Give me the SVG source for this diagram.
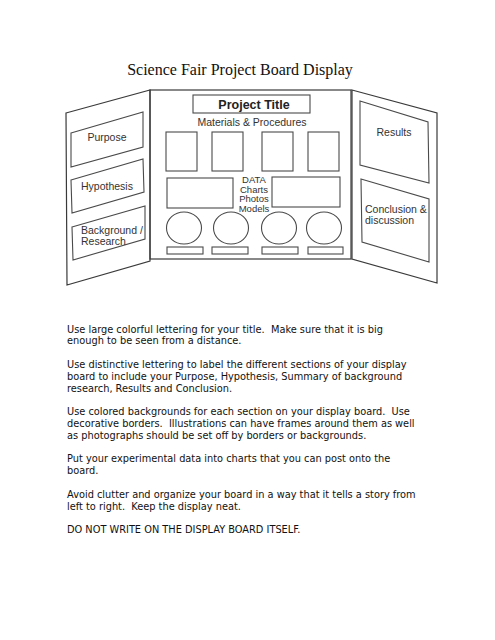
<svg xmlns="http://www.w3.org/2000/svg" width="495" height="640" viewBox="0 0 495 640">
<style>
.ln{fill:none;stroke:#3a3a3a;stroke-width:1.2;stroke-linejoin:miter}
.bx{fill:none;stroke:#4a4a4a;stroke-width:1.1}
.lb{font-family:"Liberation Sans",Arial,sans-serif;font-size:10.5px;fill:#333}
.dt{font-family:"Liberation Sans",Arial,sans-serif;font-size:9.5px;fill:#333}
.bd{font-family:"DejaVu Sans",Verdana,sans-serif;font-size:9.8px;fill:#111;white-space:pre}
</style>
<rect width="495" height="640" fill="#fff"/>
<text x="240" y="75" text-anchor="middle" font-family="Liberation Serif,Times New Roman,serif" font-size="16" fill="#111">Science Fair Project Board Display</text>

<g id="left-panel">
<polygon class="ln" points="66,113 150,90 150,261 67,285"/>
<g id="purpose"><polygon class="bx" points="71,133 143,112 143,147 71,167"/><text class="lb" x="107" y="141" text-anchor="middle">Purpose</text></g>
<g id="hypothesis"><polygon class="bx" points="71,180 143,159 144,192 72,213"/><text class="lb" x="107" y="190" text-anchor="middle">Hypothesis</text></g>
<g id="background"><polygon class="bx" points="72,227 145,206 145,239 73,260"/><text class="lb" x="81" y="234">Background /</text><text class="lb" x="81" y="245">Research</text></g>
</g>

<g id="center-panel">
<rect class="ln" x="150" y="90" width="201" height="169"/>
<g id="title-box"><rect class="bx" x="193" y="95" width="117" height="18"/><text x="254" y="109" text-anchor="middle" font-family="Liberation Sans,Arial,sans-serif" font-weight="bold" font-size="12.5" fill="#222">Project Title</text></g>
<text class="lb" x="252" y="126" text-anchor="middle" fill="#222">Materials &amp; Procedures</text>
<g id="materials">
<rect class="bx" x="166" y="132" width="31" height="39"/>
<rect class="bx" x="212" y="132" width="31" height="39"/>
<rect class="bx" x="262" y="132" width="31" height="39"/>
<rect class="bx" x="308" y="132" width="31" height="39"/>
</g>
<g id="data">
<rect class="bx" x="167" y="178" width="66" height="30"/>
<rect class="bx" x="272" y="177" width="68" height="30"/>
<text class="dt" x="254" y="183" text-anchor="middle">DATA</text>
<text class="dt" x="254" y="192.5" text-anchor="middle">Charts</text>
<text class="dt" x="254" y="202" text-anchor="middle">Photos</text>
<text class="dt" x="254" y="211.5" text-anchor="middle">Models</text>
</g>
<g id="circles">
<ellipse class="bx" cx="184" cy="228" rx="17.5" ry="16"/>
<ellipse class="bx" cx="231" cy="228" rx="17.5" ry="16"/>
<ellipse class="bx" cx="279" cy="228" rx="17.5" ry="16"/>
<ellipse class="bx" cx="324" cy="228" rx="17.5" ry="16"/>
</g>
<g id="label-strips">
<rect class="bx" x="167" y="247" width="36" height="7"/>
<rect class="bx" x="212" y="247" width="36" height="7"/>
<rect class="bx" x="262" y="247" width="36" height="7"/>
<rect class="bx" x="308" y="247" width="35" height="7"/>
</g>
</g>

<g id="right-panel">
<polygon class="ln" points="352,90 437,113 437,283 352,259"/>
<g id="results"><polygon class="bx" points="360,101 428,122 429,183 360,165"/><text class="lb" x="394" y="136" text-anchor="middle">Results</text></g>
<g id="conclusion"><polygon class="bx" points="361,179 429,199 429,262 362,242"/><text class="lb" x="365" y="213">Conclusion &amp;</text><text class="lb" x="365" y="224">discussion</text></g>
</g>

<g id="notes">
<text class="bd" x="67" y="332.5">Use large colorful lettering for your title.  Make sure that it is big</text>
<text class="bd" x="67" y="344.3">enough to be seen from a distance.</text>
<text class="bd" x="67" y="367.9">Use distinctive lettering to label the different sections of your display</text>
<text class="bd" x="67" y="379.7">board to include your Purpose, Hypothesis, Summary of background</text>
<text class="bd" x="67" y="391.5">research, Results and Conclusion.</text>
<text class="bd" x="67" y="415.1">Use colored backgrounds for each section on your display board.  Use</text>
<text class="bd" x="67" y="426.9">decorative borders.  Illustrations can have frames around them as well</text>
<text class="bd" x="67" y="438.7">as photographs should be set off by borders or backgrounds.</text>
<text class="bd" x="67" y="462.3">Put your experimental data into charts that you can post onto the</text>
<text class="bd" x="67" y="474.1">board.</text>
<text class="bd" x="67" y="497.7">Avoid clutter and organize your board in a way that it tells a story from</text>
<text class="bd" x="67" y="509.5">left to right.  Keep the display neat.</text>
<text class="bd" x="67" y="533.1">DO NOT WRITE ON THE DISPLAY BOARD ITSELF.</text>
</g>
</svg>
